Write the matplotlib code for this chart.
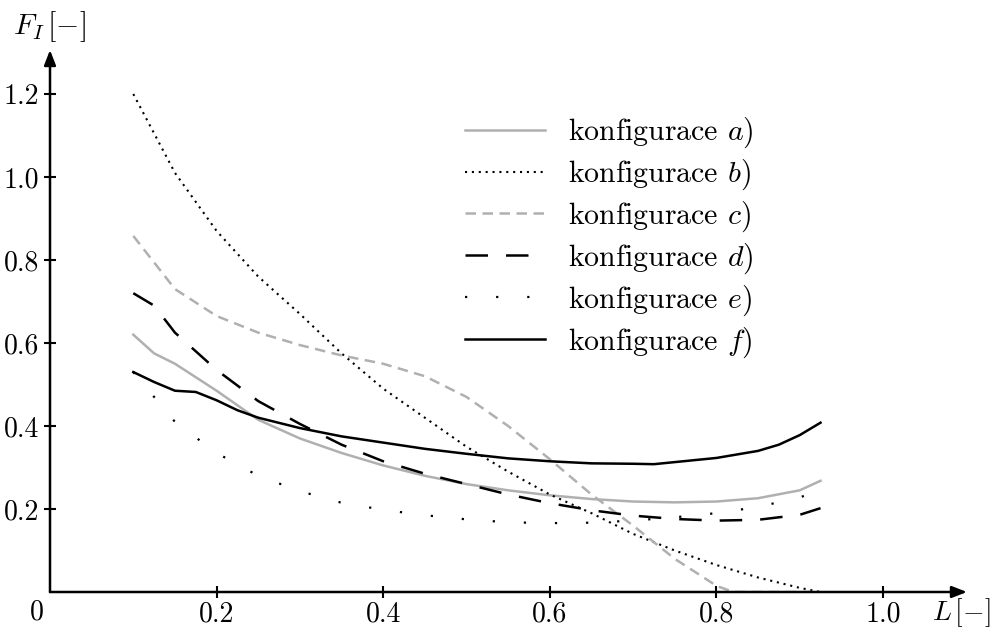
import matplotlib
matplotlib.use("Agg")
import matplotlib.pyplot as plt

plt.rcParams['font.family'] = 'serif'
plt.rcParams['font.serif'] = ['cmr10']
plt.rcParams['mathtext.fontset'] = 'cm'
plt.rcParams['axes.unicode_minus'] = False

GRAY = '#b0b0b0'

# ---- data ----
L_a = [0.1, 0.125, 0.15, 0.2, 0.25, 0.3, 0.35, 0.4, 0.45, 0.5, 0.55, 0.6, 0.65, 0.7, 0.75, 0.8, 0.85, 0.9, 0.925]
F_a = [0.62, 0.575, 0.55, 0.485, 0.415, 0.37, 0.335, 0.305, 0.28, 0.26, 0.245, 0.233, 0.224, 0.218, 0.216, 0.218, 0.226, 0.245, 0.268]

L_b = [0.1, 0.15, 0.2, 0.25, 0.3, 0.35, 0.4, 0.45, 0.5, 0.55, 0.6, 0.65, 0.7, 0.75, 0.8, 0.85, 0.9, 0.925]
F_b = [1.2, 1.01, 0.87, 0.76, 0.67, 0.575, 0.49, 0.42, 0.35, 0.29, 0.235, 0.19, 0.14, 0.10, 0.065, 0.035, 0.01, 0.0]

L_c = [0.1, 0.15, 0.2, 0.25, 0.3, 0.35, 0.4, 0.45, 0.5, 0.55, 0.6, 0.65, 0.7, 0.75, 0.8, 0.82, 0.925]
F_c = [0.858, 0.73, 0.665, 0.625, 0.595, 0.57, 0.55, 0.52, 0.47, 0.40, 0.32, 0.235, 0.16, 0.08, 0.015, 0.0, 0.0]

L_d = [0.1, 0.125, 0.15, 0.2, 0.25, 0.3, 0.35, 0.4, 0.45, 0.5, 0.55, 0.6, 0.65, 0.7, 0.75, 0.8, 0.85, 0.9, 0.925]
F_d = [0.72, 0.69, 0.625, 0.535, 0.46, 0.405, 0.355, 0.315, 0.285, 0.26, 0.235, 0.214, 0.197, 0.184, 0.176, 0.172, 0.174, 0.186, 0.202]

L_e = [0.1, 0.15, 0.2, 0.25, 0.3, 0.35, 0.4, 0.45, 0.5, 0.55, 0.6, 0.65, 0.7, 0.75, 0.8, 0.85, 0.9, 0.925]
F_e = [0.53, 0.41, 0.335, 0.28, 0.243, 0.215, 0.198, 0.185, 0.175, 0.168, 0.166, 0.167, 0.172, 0.18, 0.19, 0.205, 0.228, 0.245]

L_f = [0.1, 0.125, 0.15, 0.175, 0.2, 0.225, 0.25, 0.3, 0.35, 0.4, 0.45, 0.5, 0.55, 0.6, 0.65, 0.7, 0.725, 0.75, 0.8, 0.85, 0.875, 0.9, 0.925]
F_f = [0.53, 0.506, 0.485, 0.482, 0.462, 0.438, 0.42, 0.395, 0.375, 0.36, 0.345, 0.333, 0.322, 0.315, 0.31, 0.309, 0.308, 0.313, 0.323, 0.34, 0.355, 0.378, 0.408]

labels = ['konfigurace $a$)', 'konfigurace $b$)', 'konfigurace $c$)',
          'konfigurace $d$)', 'konfigurace $e$)', 'konfigurace $f$)']
xticks = [0.2, 0.4, 0.6, 0.8, 1.0]
xticklabels = ['0.2', '0.4', '0.6', '0.8', '1.0']
yticks = [0.2, 0.4, 0.6, 0.8, 1.0, 1.2]
yticklabels = ['0.2', '0.4', '0.6', '0.8', '1.0', '1.2']

FS = 21.5      # legend
TFS = 20       # ticks / axis labels
W, H = 997, 628
fig = plt.figure(figsize=(W / 100, H / 100), dpi=100)
x0, y0 = 50, 36           # origin in pixels (from bottom-left)
px_per_x, px_per_y = 833, 415
AW, AH = 967 - x0, 578 - y0
xmax = AW / px_per_x
ymax = AH / px_per_y
ax = fig.add_axes([x0 / W, y0 / H, AW / W, AH / H])
ax.set_xlim(0, xmax)
ax.set_ylim(0, ymax)
for s in ax.spines.values():
    s.set_visible(False)

lw = 1.8
ax.plot(L_a, F_a, color=GRAY, lw=lw, label=labels[0])
ax.plot(L_b, F_b, color='black', lw=1.5, linestyle=(0, (1, 2.3)), label=labels[1])
ax.plot(L_c, F_c, color=GRAY, lw=lw, linestyle=(0, (4.2, 2.6)), label=labels[2])
ax.plot(L_d, F_d, color='black', lw=lw, linestyle=(0, (9.0, 7.2)), label=labels[3])
ax.plot(L_e, F_e, color='black', lw=1.6, linestyle=(0, (1, 13)), label=labels[4])
ax.plot(L_f, F_f, color='black', lw=lw, label=labels[5])

# axes with arrows
for tip in [(xmax, 0), (0, ymax)]:
    ax.annotate('', xy=tip, xytext=(0, 0),
                arrowprops=dict(arrowstyle='-|>,head_length=0.9,head_width=0.35', lw=1.8,
                                color='black', shrinkA=0, shrinkB=0),
                annotation_clip=False)

ax.set_xticks(xticks)
ax.set_xticklabels(xticklabels)
ax.set_yticks(yticks)
ax.set_yticklabels(yticklabels)
ax.tick_params(direction='inout', length=8, width=1.5, labelsize=TFS, pad=2.5)
ax.tick_params(axis='y', pad=4)

ax.text(-13 / px_per_x, -7 / px_per_y, '0', fontsize=TFS, ha='center', va='top')
ax.text(-37 / px_per_x, ymax + 0.015, r'$F_I\,[-]$', fontsize=FS, ha='left', va='bottom')
ax.text(xmax - 35 / px_per_x, -4 / px_per_y, r'$L\,[-]$', fontsize=TFS, ha='left', va='top')

ax.legend(loc='upper left', bbox_to_anchor=((465 - x0) / AW, (628 - 116 - y0) / AH),
          frameon=False, fontsize=FS, handlelength=2.68, handletextpad=0.77,
          labelspacing=0.25, borderaxespad=0, borderpad=0)

fig.savefig('out.png', dpi=100)
